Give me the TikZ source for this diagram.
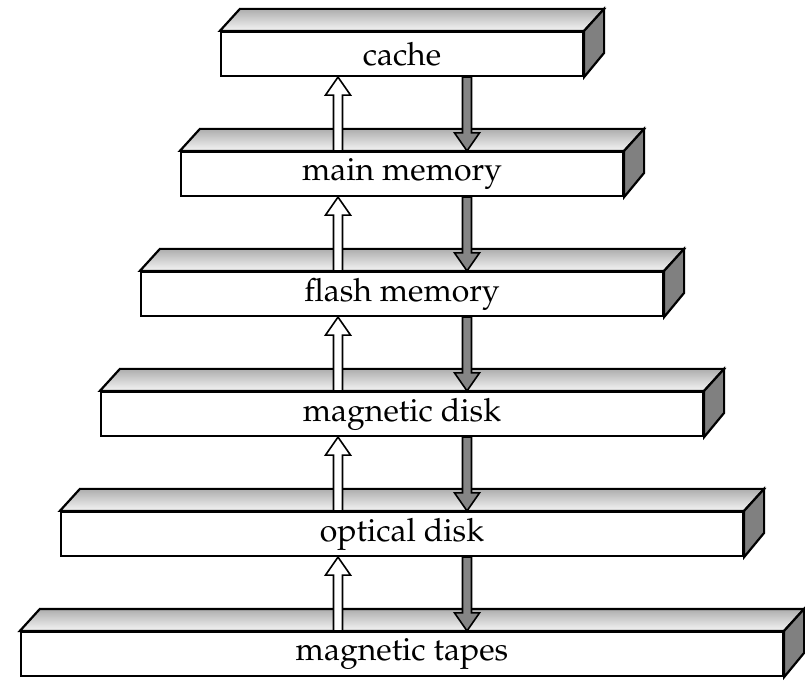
\documentclass[tikz,border=0pt]{standalone}
\usepackage[T1]{fontenc}
\usepackage{mathpazo}
\usetikzlibrary{calc}

\tikzset{
  x=1pt, y=1pt,
  face/.style={draw=black, line width=2.2pt, line join=miter, fill=white,
    inner sep=0pt, minimum height=44pt,
    font=\fontsize{32}{36}\selectfont},
  topface/.style={draw=black, line width=2.2pt, line join=miter,
    top color=black!32, bottom color=black!4},
  sideface/.style={draw=black, line width=2.2pt, line join=miter, fill=black!50},
  uparr/.style={draw=black, line width=1.6pt, line join=miter, fill=white},
  downarr/.style={draw=black, line width=1.6pt, line join=miter, fill=black!48},
}

% one storage level: a box with a lit top face and a shaded side face
\newcommand\levelbox[4]{% name, width, center y, label
  \node[face, minimum width=#2pt] (#1) at (402,#3) {#4};
  \path[topface] (#1.north west) -- ++(20,22) -- ($(#1.north east)+(20,22)$)
    -- (#1.north east) -- cycle;
  \path[sideface] (#1.north east) -- ++(20,22) -- ++(0,-44) -- (#1.south east) -- cycle;
  \node[face, minimum width=#2pt] at (#1.center) {#4};
}

% hollow arrow going up from the lower level to the upper one
\newcommand\hierup[2]{%
  \path[uparr] ($(#1.north -| upx)+(-4.5,0)$) -- ($(#2.south -| upx)+(-4.5,-18)$)
    -- ($(#2.south -| upx)+(-12.5,-18)$) -- (#2.south -| upx)
    -- ($(#2.south -| upx)+(12.5,-18)$) -- ($(#2.south -| upx)+(4.5,-18)$)
    -- ($(#1.north -| upx)+(4.5,0)$) -- cycle;
}
% filled arrow going down from the upper level to the lower one
\newcommand\hierdown[2]{%
  \path[downarr] ($(#1.south -| dnx)+(-4.5,0)$) -- ($(#2.north -| dnx)+(-4.5,18)$)
    -- ($(#2.north -| dnx)+(-12.5,18)$) -- (#2.north -| dnx)
    -- ($(#2.north -| dnx)+(12.5,18)$) -- ($(#2.north -| dnx)+(4.5,18)$)
    -- ($(#1.south -| dnx)+(4.5,0)$) -- cycle;
}

\begin{document}
\begin{tikzpicture}
  \useasboundingbox (0,0) rectangle (805,680);
  \coordinate (upx) at (338,0);
  \coordinate (dnx) at (467,0);

  \levelbox{cache}{362}{626}{cache}
  \levelbox{mainmem}{442}{506}{main memory}
  \levelbox{flash}{522}{386}{flash memory}
  \levelbox{mdisk}{602}{266}{magnetic disk}
  \levelbox{odisk}{682}{146}{optical disk}
  \levelbox{tapes}{762}{26}{magnetic tapes}

  \hierup{mainmem}{cache}   \hierdown{cache}{mainmem}
  \hierup{flash}{mainmem}   \hierdown{mainmem}{flash}
  \hierup{mdisk}{flash}     \hierdown{flash}{mdisk}
  \hierup{odisk}{mdisk}     \hierdown{mdisk}{odisk}
  \hierup{tapes}{odisk}     \hierdown{odisk}{tapes}
\end{tikzpicture}
\end{document}
